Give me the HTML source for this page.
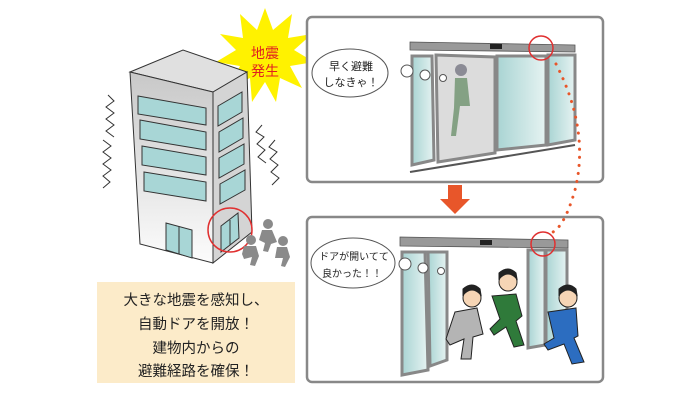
<!DOCTYPE html>
<html><head><meta charset="utf-8"><style>
body{margin:0;background:#fff;width:700px;height:400px;overflow:hidden;font-family:"Liberation Sans","Noto Sans CJK JP",sans-serif}
</style></head><body>
<svg width="700" height="400" viewBox="0 0 700 400" xmlns="http://www.w3.org/2000/svg">
<defs>
<linearGradient id="bf" x1="0" y1="0" x2="0" y2="1"><stop offset="0" stop-color="#c8c8c8"/><stop offset="1" stop-color="#fcfcfc"/></linearGradient>
<linearGradient id="glass" x1="0" y1="0" x2="1" y2="0"><stop offset="0" stop-color="#a9d4d3"/><stop offset="1" stop-color="#e6f3f2"/></linearGradient>
</defs>
<polygon points="265,8 273,30 292,14 288,38 312,34 294,50 314,62 290,66 302,88 280,78 276,102 265,82 252,102 250,78 228,88 240,66 216,62 236,50 220,34 243,38 240,14 257,30" fill="#fff200"/>
<polygon points="130,72 183,50 247,72 213,92" fill="#e0e0e0" stroke="#333" stroke-width="1"/>
<polygon points="130,72 213,92 213,263 140,244" fill="url(#bf)" stroke="#333" stroke-width="1"/>
<polygon points="213,92 247,72 252,232 213,263" fill="#d4d4d4" stroke="#333" stroke-width="1"/>
<g fill="#a8d6d6" stroke="#333" stroke-width="1">
<polygon points="138,96 206,108 206,125 138,114"/>
<polygon points="140,120 206,132 206,150 140,139"/>
<polygon points="142,146 206,157 206,175 142,165"/>
<polygon points="144,172 206,182 206,201 144,191"/>
<polygon points="218,106 242,92 242,112 218,126"/>
<polygon points="219,132 243,118 243,138 219,152"/>
<polygon points="219,158 244,144 244,164 219,178"/>
<polygon points="220,184 245,170 245,190 220,204"/>
<polygon points="166,223 192,230 192,258 166,250"/>
<polygon points="221,226 238,213 239,238 221,252"/>
</g>
<line x1="179" y1="226" x2="179" y2="254" stroke="#333"/>
<line x1="230" y1="220" x2="230" y2="245" stroke="#333"/>
<circle cx="230" cy="230" r="22" fill="none" stroke="#e03030" stroke-width="1.5"/>
<g fill="#8a8a8a">
<circle cx="268" cy="224" r="5"/><path d="M262,230 l10,0 l5,12 l-6,2 l-3,8 l-5,-1 l2,-8 l-6,-3z"/>
<circle cx="251" cy="240" r="5"/><path d="M244,246 l12,0 l3,10 l-4,10 l-5,-1 l2,-8 l-8,2 l-2,-5z"/>
<circle cx="283" cy="241" r="5"/><path d="M277,247 l10,0 l3,10 l-5,10 l-4,-1 l2,-8 l-8,0z"/>
</g>
<g fill="none" stroke="#333" stroke-width="1">
<polyline points="108,95 114,101 106,107 114,113 106,119 114,125 106,131 114,137"/>
<polyline points="103,140 111,146 103,152 111,158 103,164 111,170 103,176 110,182 103,188"/>
<polyline points="262,125 256,132 264,137 257,144 265,150 258,157 266,163"/>
<polyline points="275,140 269,147 277,152 270,159 278,165 271,172 279,178 272,185"/>
<polyline points="385,100 392,106 384,112 392,118 384,124 392,130 385,135"/>
<polyline points="381,127 389,133 381,139 389,145 381,151 389,157 383,163"/>
<polyline points="590,33 583,40 592,45 584,52 592,58 585,64"/>
<polyline points="596,50 588,57 597,62 589,69 597,75 589,82"/>
<polyline points="383,302 390,308 382,314 390,320 382,326 390,332 384,338"/>
<polyline points="380,330 388,336 380,342 388,348 380,354 388,360 382,366"/>
<polyline points="590,235 583,242 592,247 584,254 592,260 585,266"/>
<polyline points="596,253 588,260 597,265 589,272 597,278 589,285"/>
</g>
<rect x="97" y="282" width="198" height="101" fill="#fcebc9"/>
<g font-size="14.5" fill="#222" text-anchor="middle">
<text x="196" y="305">大きな地震を感知し、</text>
<text x="196" y="329">自動ドアを開放！</text>
<text x="196" y="353">建物内からの</text>
<text x="196" y="376">避難経路を確保！</text>
</g>
<text x="265" y="58" font-size="14" fill="#e02020" text-anchor="middle">地震</text>
<text x="265" y="76" font-size="14" fill="#e02020" text-anchor="middle">発生</text>
<rect x="307" y="17" width="296" height="165" rx="5" fill="#fff" stroke="#888" stroke-width="2.5"/>
<rect x="307" y="217" width="296" height="165" rx="5" fill="#fff" stroke="#888" stroke-width="2.5"/>
<polygon points="448,185 462,185 462,199 470,199 455,214 440,199 448,199" fill="#e8562a"/>
<polygon points="410,42 575,45 575,52 410,50" fill="#999" stroke="#555" stroke-width="0.8"/>
<rect x="490" y="44" width="12" height="5" fill="#222"/>
<polygon points="412,56 432,56 434,160 412,165" fill="url(#glass)" stroke="#888" stroke-width="3"/>
<polygon points="436,55 495,57 495,153 438,162" fill="#dcdcdc" stroke="#888" stroke-width="3"/>
<polygon points="497,56 546,56 546,145 497,150" fill="url(#glass)" stroke="#888" stroke-width="3"/>
<polygon points="548,55 575,55 575,140 548,145" fill="url(#glass)" stroke="#888" stroke-width="3"/>
<line x1="410" y1="172" x2="575" y2="145" stroke="#555" stroke-width="2"/>
<circle cx="461" cy="70" r="6" fill="#556" opacity="0.6"/>
<path d="M455,78 l12,0 l3,28 l-10,0 l-4,30 l-5,0 l3,-28z" fill="#4a7a4a" opacity="0.6"/>
<circle cx="541" cy="48" r="12" fill="none" stroke="#e03030" stroke-width="1.5"/>
<ellipse cx="350" cy="73" rx="38" ry="24" fill="#fff" stroke="#555"/>
<circle cx="407" cy="71" r="6" fill="#fff" stroke="#555"/><circle cx="425" cy="75" r="5" fill="#fff" stroke="#555"/><circle cx="443" cy="78" r="3.5" fill="#fff" stroke="#555"/>
<text x="351" y="70" font-size="11" text-anchor="middle" fill="#222">早く避難</text>
<text x="351" y="86" font-size="11" text-anchor="middle" fill="#222">しなきゃ！</text>
<path d="M556,64 Q590,130 575,190 Q565,225 553,232" fill="none" stroke="#e8562a" stroke-width="3" stroke-dasharray="0.1 8" stroke-linecap="round"/>
<polygon points="400,237 568,240 568,248 400,246" fill="#999" stroke="#555" stroke-width="0.8"/>
<rect x="480" y="240" width="12" height="5" fill="#222"/>
<polygon points="402,252 425,252 428,370 402,375" fill="url(#glass)" stroke="#888" stroke-width="3"/>
<polygon points="428,252 447,252 447,360 430,366" fill="url(#glass)" stroke="#888" stroke-width="3"/>
<polygon points="528,250 545,250 545,345 528,348" fill="url(#glass)" stroke="#888" stroke-width="3"/>
<polygon points="546,250 567,250 567,340 546,345" fill="url(#glass)" stroke="#888" stroke-width="3"/>
<circle cx="543" cy="244" r="12" fill="none" stroke="#e03030" stroke-width="1.5"/>
<g stroke="#222" stroke-width="1">
<circle cx="472" cy="298" r="9" fill="#f6d5b5"/><path d="M463,295 q9,-10 18,0 l-1,-6 q-8,-8 -17,0z" fill="#222"/>
<path d="M455,312 l22,-4 l6,26 l-10,3 l-2,22 l-10,0 l3,-20 l-14,6 l-4,-6z" fill="#b4b4b4"/>
<circle cx="508" cy="282" r="9" fill="#f6d5b5"/><path d="M499,279 q9,-10 18,0 l-1,-6 q-8,-8 -17,0z" fill="#222"/>
<path d="M492,296 l24,-2 l6,22 l-6,5 l8,24 l-10,2 l-8,-20 l-12,8 l-4,-6 l10,-10z" fill="#2f7a3a"/>
<circle cx="568" cy="298" r="9" fill="#f6d5b5"/><path d="M559,295 q9,-10 18,0 l-1,-6 q-8,-8 -17,0z" fill="#222"/>
<path d="M548,312 l28,-4 l2,28 l-4,2 l10,24 l-12,2 l-8,-20 l-16,6 l-4,-6 l10,-6z" fill="#2c6dc0"/>
</g>
<ellipse cx="353" cy="263" rx="42" ry="25" fill="#fff" stroke="#555"/>
<circle cx="405" cy="264" r="6" fill="#fff" stroke="#555"/><circle cx="423" cy="268" r="5" fill="#fff" stroke="#555"/><circle cx="441" cy="271" r="3.5" fill="#fff" stroke="#555"/>
<text x="354" y="260" font-size="10" text-anchor="middle" fill="#222">ドアが開いてて</text>
<text x="352" y="277" font-size="10" text-anchor="middle" fill="#222">良かった！！</text>
</svg>
</body></html>
